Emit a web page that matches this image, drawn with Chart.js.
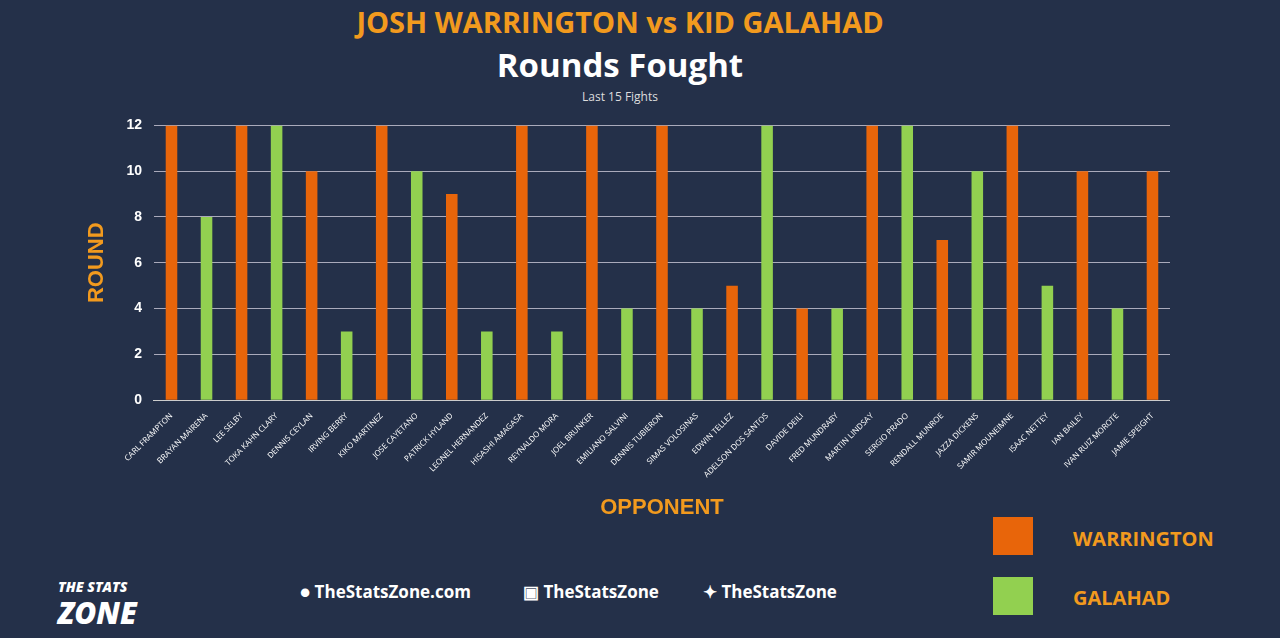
<!DOCTYPE html>
<html><head><meta charset="utf-8">
<script src="https://cdn.jsdelivr.net/npm/chart.js@4"></script>
<style>
body{margin:0;background:#243049;width:1280px;height:638px;overflow:hidden;font-family:"Open Sans",Lato,sans-serif;position:relative}
#wrap{position:absolute;left:80px;top:105px;width:1090px;height:420px}
.t{position:absolute;width:100%;text-align:center}
.leg{position:absolute;width:40px;height:38px}
.lt{position:absolute;color:#f29a1e;font-weight:bold;font-size:20px}
.ft{position:absolute;color:#fff;font-size:17px;font-weight:bold;top:580px}
</style></head><body>
<div class="t" style="top:2px;left:-20px;color:#f29a1e;font-size:29px;font-weight:bold">JOSH WARRINGTON vs KID GALAHAD</div>
<div class="t" style="top:42px;left:-20px;color:#fff;font-size:33px;font-weight:bold">Rounds Fought</div>
<div class="t" style="top:88px;left:-20px;color:#ddd;font-size:12px">Last 15 Fights</div>
<div id="wrap"><canvas id="c"></canvas></div>
<div class="leg" style="left:993px;top:517px;background:#e8650a"></div>
<div class="leg" style="left:993px;top:577px;background:#92d050"></div>
<div class="lt" style="left:1073px;top:525px">WARRINGTON</div>
<div class="lt" style="left:1073px;top:584px">GALAHAD</div>
<div style="position:absolute;left:58px;top:568px;color:#fff;font-style:italic;font-weight:900;font-size:30px;line-height:26px"><span style="font-size:14px">THE STATS</span><br>ZONE</div>
<div class="ft" style="left:300px">● TheStatsZone.com</div>
<div class="ft" style="left:523px">▣ TheStatsZone</div>
<div class="ft" style="left:703px">✦ TheStatsZone</div>
<script>
const opponents=["CARL FRAMPTON","BRAYAN MAIRENA","LEE SELBY","TOKA KAHN CLARY","DENNIS CEYLAN","IRVING BERRY","KIKO MARTINEZ","JOSE CAYETANO","PATRICK HYLAND","LEONEL HERNANDEZ","HISASHI AMAGASA","REYNALDO MORA","JOEL BRUNKER","EMILIANO SALVINI","DENNIS TUBIERON","SIMAS VOLOSINAS","EDWIN TELLEZ","ADELSON DOS SANTOS","DAVIDE DEILI","FRED MUNDRABY","MARTIN LINDSAY","SERGIO PRADO","RENDALL MUNROE","JAZZA DICKENS","SAMIR MOUNEIMNE","ISAAC NETTEY","IAN BAILEY","IVAN RUIZ MOROTE","JAMIE SPEIGHT"];
const rounds=[12,8,12,12,10,3,12,10,9,3,12,3,12,4,12,4,5,12,4,4,12,12,7,10,12,5,10,4,10];
const fighter=["W","G","W","G","W","G","W","G","W","G","W","G","W","G","W","G","W","G","W","G","W","G","W","G","W","G","W","G","W"];
const colors=fighter.map(f=>f==="W"?"#e8650a":"#92d050");
new Chart(document.getElementById('c'),{type:'bar',
data:{labels:opponents,datasets:[{data:rounds,backgroundColor:colors,barPercentage:0.33,categoryPercentage:1}]},
options:{responsive:true,maintainAspectRatio:false,animation:false,
plugins:{legend:{display:false},tooltip:{enabled:false}},
layout:{padding:{right:0}},
scales:{
x:{grid:{display:false},border:{color:'#ccc'},ticks:{color:'#fff',font:{size:8,family:'Open Sans'},maxRotation:45,minRotation:45,autoSkip:false},
 title:{display:true,text:'OPPONENT',color:'#f29a1e',font:{size:22,weight:'bold'},padding:{top:12}}},
y:{min:0,max:12,ticks:{stepSize:2,color:'#fff',font:{size:14,weight:'bold'},padding:12},grid:{color:'#aab',drawTicks:false},border:{display:false},
 title:{display:true,text:'ROUND',color:'#f29a1e',font:{size:22,weight:'bold'}}}}}});
</script></body></html>
